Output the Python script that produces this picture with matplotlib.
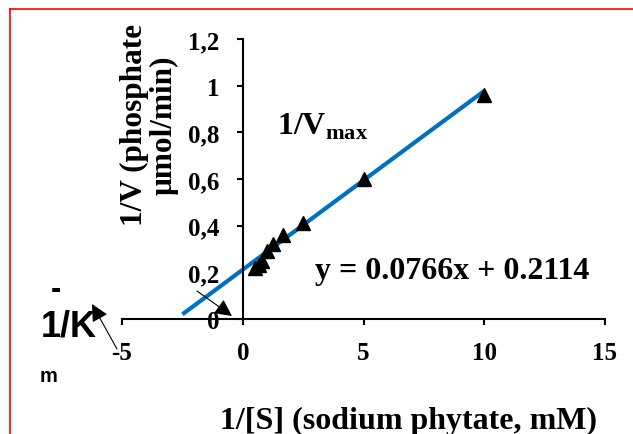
import matplotlib

matplotlib.use("Agg")
import matplotlib.pyplot as plt
from matplotlib.lines import Line2D
from matplotlib.patches import FancyArrowPatch

SERIF = "Liberation Serif"
SANS = "Liberation Sans"
BLUE = "#0070C0"

plt.rcParams.update({
    "font.family": SERIF,
    "font.weight": "bold",
    "mathtext.fontset": "custom",
    "mathtext.bf": "Liberation Serif:bold",
    "mathtext.rm": "Liberation Serif:bold",
})

# Lineweaver-Burk data
inv_s = [0.5, 0.67, 0.8, 1.0, 1.25, 1.67, 2.5, 5.0, 10.0]
inv_v = [0.22, 0.23, 0.25, 0.29, 0.32, 0.36, 0.41, 0.60, 0.96]
slope = 0.0766
intercept = 0.2114
fit_x = [-2.5, 10.0]

x_ticks = [-5, 0, 5, 10, 15]
x_labels = ["-5", "0", "5", "10", "15"]
y_ticks = [0, 0.2, 0.4, 0.6, 0.8, 1.0, 1.2]
y_labels = ["0", "0,2", "0,4", "0,6", "0,8", "1", "1,2"]

W, H = 633, 435
fig = plt.figure(figsize=(W / 100, H / 100), dpi=100)
ax = fig.add_axes([122 / W, 1 - 320 / H, 483 / W, 280 / H])

fit_y = [slope * x + intercept for x in fit_x]
ax.plot(fit_x, fit_y, color=BLUE, lw=3.0, solid_capstyle="butt", zorder=2)
ax.plot(inv_s, inv_v, ls="none", marker="^", ms=10, color="black", zorder=3)

ax.set_xlim(-5, 15)
ax.set_ylim(0, 1.2)
ax.set_xticks(x_ticks)
ax.set_xticklabels(x_labels)
ax.set_yticks(y_ticks)
ax.set_yticklabels(y_labels)
ax.spines["top"].set_visible(False)
ax.spines["right"].set_visible(False)
ax.spines["left"].set_position(("data", 0))
ax.spines["left"].set_linewidth(1.5)
ax.spines["bottom"].set_linewidth(1.5)
ax.tick_params(axis="both", direction="out", length=4.5, width=1.5, labelsize=18)
ax.tick_params(axis="x", pad=11)
ax.tick_params(axis="y", pad=12)
ax.patch.set_visible(False)

# annotations inside the plot
ax.text(1.4, 0.83, r"$\mathbf{1/V}_{\mathbf{max}}$", fontsize=23, ha="left", va="center")
ax.text(3.0, 0.21, "y = 0.0766x + 0.2114", fontsize=23, fontweight="bold",
        ha="left", va="center")

# axis titles
fig.text(149 / W, 1 - 125 / H, "1/V (phosphate\nμmol/min)", rotation=90,
         fontsize=22.5, fontweight="bold", ha="center", va="center",
         multialignment="center", linespacing=1.0)
fig.text(408 / W, 1 - 421 / H, "1/[S] (sodium phytate, mM)", fontsize=23,
         fontweight="bold", ha="center", va="center")

# -1/Km label on the left
fig.text(56 / W, 1 - 290 / H, "-", family=SANS, fontsize=22, fontweight="bold",
         ha="center", va="center")
fig.text(69 / W, 1 - 327 / H, "1/K", family=SANS, fontsize=26, fontweight="bold",
         ha="center", va="center")
fig.text(49 / W, 1 - 377 / H, "m", family=SANS, fontsize=14.5, fontweight="bold",
         ha="center", va="center")

# thin pointer arrows
arrow = dict(arrowstyle="-|>", color="black", lw=0.8, mutation_scale=26,
             shrinkA=0, shrinkB=0)
fig.add_artist(FancyArrowPatch((117, H - 350), (92, H - 305), transform=None, **arrow))
fig.add_artist(FancyArrowPatch((197, H - 292), (232, H - 317), transform=None, **arrow))

# red frame
fig.add_artist(Line2D([10 / W, 10 / W], [0, 1 - 10 / H], color="red", lw=1.2))
fig.add_artist(Line2D([10 / W, 1], [1 - 10 / H, 1 - 10 / H], color="red", lw=1.2))

fig.savefig("out.png", dpi=100, facecolor="white")
